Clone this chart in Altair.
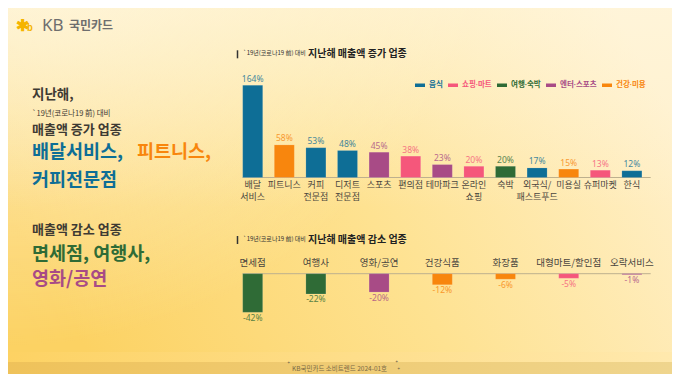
import altair as alt
import pandas as pd

FONT = "Noto Sans CJK KR"
FONT2 = "'Noto Sans', 'Noto Sans CJK KR'"

# ---------------- data ----------------
up_cats = ["배달\n서비스", "피트니스", "커피\n전문점", "디저트\n전문점", "스포츠", "편의점", "테마파크",
           "온라인\n쇼핑", "숙박", "외국식/\n패스트푸드", "미용실", "슈퍼마켓", "한식"]
up_vals = [164, 58, 53, 48, 45, 38, 23, 20, 20, 17, 15, 13, 12]
up_groups = ["음식", "건강·미용", "음식", "음식", "엔터·스포츠", "쇼핑·마트", "엔터·스포츠",
             "쇼핑·마트", "여행·숙박", "음식", "건강·미용", "쇼핑·마트", "음식"]

down_cats = ["면세점", "여행사", "영화/공연", "건강식품", "화장품", "대형마트/할인점", "오락서비스"]
down_vals = [-42, -22, -20, -12, -6, -5, -1]
down_groups = ["여행·숙박", "여행·숙박", "엔터·스포츠", "건강·미용", "건강·미용", "쇼핑·마트", "엔터·스포츠"]

groups = ["음식", "쇼핑·마트", "여행·숙박", "엔터·스포츠", "건강·미용"]
group_colors = ["#0E6E96", "#F5577B", "#2F6B36", "#A84B86", "#F8860D"]

up_df = pd.DataFrame({"cat": up_cats, "val": up_vals, "grp": up_groups,
                      "lbl": [f"{v}%" for v in up_vals]})
dn_df = pd.DataFrame({"cat": down_cats, "val": down_vals, "grp": down_groups,
                      "lbl": [f"{v}%" for v in down_vals]})

W, H = 664, 366

LEG = alt.Legend(
    title=None, orient="none", legendX=407, legendY=72, direction="horizontal",
    symbolType="M-1,-0.35H1V0.35H-1Z", symbolSize=100, symbolStrokeWidth=0,
    labelFont=FONT2, labelFontSize=7.5, labelFontWeight="bold", labelOffset=4,
    columnPadding=5,
    labelColor=alt.ExprRef("scale('color', datum.value)"),
)
color_enc = alt.Color("grp:N", scale=alt.Scale(domain=groups, range=group_colors), legend=LEG)

one = alt.Data(values=[{}])


def txt(s, x, y, size, color, weight="normal", align="left", baseline="middle", font=FONT):
    return alt.Chart(one).mark_text(
        text=s, font=font, fontSize=size, color=color, fontWeight=weight,
        align=align, baseline=baseline
    ).encode(x=alt.value(x), y=alt.value(y))


# ---------------- background ----------------
bg = alt.Chart(one).mark_rect(
    color=alt.LinearGradient(
        gradient="linear", x1=0, y1=0.6, x2=1, y2=0.3,
        stops=[alt.GradientStop(offset=0, color="#FCD263"),
               alt.GradientStop(offset=0.5, color="#FEE291"),
               alt.GradientStop(offset=1, color="#FFF0CB")])
).encode(x=alt.value(0), x2=alt.value(W), y=alt.value(0), y2=alt.value(344))

glow = alt.Chart(one).mark_rect(
    color=alt.RadialGradient(
        gradient="radial", x1=0, y1=0, x2=0, y2=0, r1=0, r2=0.75,
        stops=[alt.GradientStop(offset=0, color="rgba(255,250,236,0.95)"),
               alt.GradientStop(offset=1, color="rgba(255,250,236,0)")])
).encode(x=alt.value(0), x2=alt.value(W), y=alt.value(0), y2=alt.value(344))

topfade = alt.Chart(one).mark_rect(
    color=alt.LinearGradient(
        gradient="linear", x1=0, y1=0, x2=0, y2=1,
        stops=[alt.GradientStop(offset=0, color="rgba(255,248,228,0.55)"),
               alt.GradientStop(offset=1, color="rgba(255,248,228,0)")])
).encode(x=alt.value(0), x2=alt.value(W), y=alt.value(0), y2=alt.value(200))

band1 = alt.Chart(one).mark_rect(
    color=alt.LinearGradient(
        gradient="linear", x1=0, y1=0, x2=1, y2=0,
        stops=[alt.GradientStop(offset=0, color="#FDD263"),
               alt.GradientStop(offset=1, color="#FFE9AE")])
).encode(x=alt.value(0), x2=alt.value(W), y=alt.value(344), y2=alt.value(354))

band2 = alt.Chart(one).mark_rect(
    color=alt.LinearGradient(
        gradient="linear", x1=0, y1=0, x2=1, y2=0,
        stops=[alt.GradientStop(offset=0, color="#EFC25A"),
               alt.GradientStop(offset=1, color="#EFD58E")])
).encode(x=alt.value(0), x2=alt.value(W), y=alt.value(354), y2=alt.value(H))

# ---------------- left texts ----------------
DARK = "#3E3A33"
left = [
    txt("✱", 14, 18, 16, "#F5B400", "bold", "center"),
    txt("b", 22, 20, 9, "#F5B400", "bold", "center"),
    txt("KB", 34, 17.5, 17, "#6E6E6E", font=FONT2),
    txt("국민카드", 61, 17.5, 12, "#6E6E6E", "bold"),
    txt("지난해,", 24, 87, 13.5, DARK, "bold"),
    txt("`19년(코로나19 前) 대비", 24, 105.5, 7.5, DARK),
    txt("매출액 증가 업종", 24, 122, 13, DARK, "bold"),
    txt("배달서비스,", 24, 144, 18.5, "#0E6E96", "bold"),
    txt("피트니스,", 129, 144, 18.5, "#F8860D", "bold"),
    txt("커피전문점", 24, 172, 18.5, "#0E6E96", "bold"),
    txt("매출액 감소 업종", 24, 222, 13, DARK, "bold"),
    txt("면세점, 여행사,", 24, 245.5, 18.5, "#2F6B36", "bold"),
    txt("영화/공연", 24, 270.5, 18.5, "#A84B86", "bold"),
]

# ---------------- section titles ----------------
def section_title(main, y):
    bar = alt.Chart(one).mark_rule(color="#333333", strokeWidth=1.5).encode(
        x=alt.value(229.5), y=alt.value(y - 4), y2=alt.value(y + 4))
    return [bar,
            txt("`19년(코로나19 前) 대비", 235, y - 1, 6, "#333333"),
            txt(main, 300, y, 10, "#222222", "bold")]

titles = section_title("지난해 매출액 증가 업종", 46.3) + section_title("지난해 매출액 감소 업종", 232)

# ---------------- top chart ----------------
xs_up = alt.X("cat:N", sort=None, axis=None,
              scale=alt.Scale(range=[234.7, 633.9], paddingInner=0.367, paddingOuter=0))
ys_up = alt.Y("val:Q", axis=None, scale=alt.Scale(domain=[0, 164], range=[169.5, 77.3], nice=False))

up_base = alt.Chart(up_df)
up_bars = up_base.mark_bar(stroke="#FFFFFF", strokeOpacity=0.25, strokeWidth=0.5).encode(
    x=xs_up, y=ys_up, color=color_enc)
up_vals_t = up_base.mark_text(font=FONT2, fontSize=8.5, baseline="bottom", dy=-1.5, opacity=0.8).encode(
    x=xs_up, y=ys_up, text="lbl:N", color=color_enc)
up_cat_t = up_base.mark_text(font=FONT, fontSize=9, baseline="top", lineBreak="\n",
                             lineHeight=12, color="#4A453E").encode(
    x=xs_up, y=alt.value(173), text="cat:N")
up_rule = alt.Chart(one).mark_rule(color="#BDB08E", strokeWidth=1).encode(
    x=alt.value(234.5), x2=alt.value(642.7), y=alt.value(169.5))
top_chart = alt.layer(up_rule, up_bars, up_vals_t, up_cat_t)

# ---------------- bottom chart ----------------
xs_dn = alt.X("cat:N", sort=None, axis=None,
              scale=alt.Scale(range=[234.7, 633.9], paddingInner=0.684, paddingOuter=0))
ys_dn = alt.Y("val:Q", axis=None, scale=alt.Scale(domain=[-42, 0], range=[304.3, 265.7], nice=False))

dn_base = alt.Chart(dn_df)
dn_bars = dn_base.mark_bar(stroke="#FFFFFF", strokeOpacity=0.25, strokeWidth=0.5).encode(
    x=xs_dn, y=ys_dn, color=color_enc)
dn_vals_t = dn_base.mark_text(font=FONT2, fontSize=8.5, baseline="top", dy=1.5, opacity=0.8).encode(
    x=xs_dn, y=ys_dn, text="lbl:N", color=color_enc)
dn_cat_t = dn_base.mark_text(font=FONT, fontSize=9.5, baseline="middle", color="#4A453E").encode(
    x=xs_dn, y=alt.value(255.3), text="cat:N")
dn_rule = alt.Chart(one).mark_rule(color="#BDB08E", strokeWidth=1).encode(
    x=alt.value(234.5), x2=alt.value(642.7), y=alt.value(265.7))
bottom_chart = alt.layer(dn_rule, dn_bars, dn_vals_t, dn_cat_t)

# ---------------- footer ----------------
footer = [
    txt("KB국민카드 소비트렌드 2024-01호", 284, 361, 6.5, "#7A6A45", "normal", "left"),
    txt("✦", 280.5, 355, 4, "#8A7A55", "normal", "center"),
    txt("✦", 388, 354, 3.5, "#8A7A55", "normal", "center"),
    txt("✦", 390, 361, 4, "#8A7A55", "normal", "center"),
]

chart = alt.layer(
    bg, glow, topfade, band1, band2, *left, *titles, top_chart, bottom_chart, *footer
).resolve_scale(x="independent", y="independent").properties(
    width=W, height=H, padding=0, autosize=alt.AutoSizeParams(type="none")
).configure_view(stroke=None)

chart.save("out.html", embed_options={"renderer": "svg", "actions": False})
